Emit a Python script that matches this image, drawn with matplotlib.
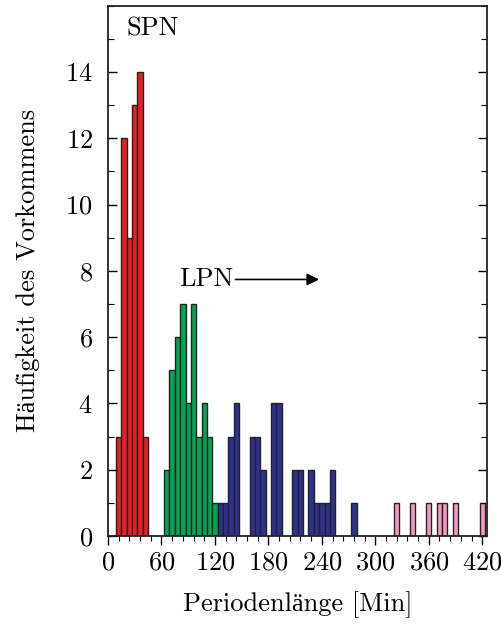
import matplotlib
matplotlib.use('Agg')
import matplotlib.pyplot as plt
from matplotlib.ticker import MultipleLocator

# bar centres (minutes) and counts, one group per colour
spn_x = [12, 18, 24, 30, 36, 42]
spn_n = [3, 12, 9, 13, 14, 3]
lpn_green_x = [66, 72, 78, 84, 90, 96, 102, 108, 114, 120]
lpn_green_n = [2, 5, 6, 7, 4, 7, 3, 4, 3, 1]
lpn_blue_x = [126, 132, 138, 144, 162, 168, 174, 186, 192, 210, 216, 228, 234, 240, 246, 252, 276]
lpn_blue_n = [1, 1, 3, 4, 3, 3, 2, 4, 4, 2, 2, 2, 1, 1, 1, 2, 1]
lpn_pink_x = [324, 342, 360, 372, 378, 390, 420]
lpn_pink_n = [1, 1, 1, 1, 1, 1, 1]
xticks = [0, 60, 120, 180, 240, 300, 360, 420]

plt.rcParams['font.family'] = ['cmr10', 'Liberation Serif']
plt.rcParams['axes.formatter.use_mathtext'] = True
plt.rcParams['font.size'] = 19

fig = plt.figure(figsize=(5.01, 6.24), dpi=100)
ax = fig.add_axes([0.2156, 0.141, 0.9714 - 0.2156, 0.9909 - 0.141])

w = 6
ec = '#222222'
ax.bar(spn_x, spn_n, width=w, color='#ec1c24', edgecolor=ec, linewidth=1)
ax.bar(lpn_green_x, lpn_green_n, width=w, color='#00a651', edgecolor=ec, linewidth=1)
ax.bar(lpn_blue_x, lpn_blue_n, width=w, color='#2e3192', edgecolor=ec, linewidth=1)
ax.bar(lpn_pink_x, lpn_pink_n, width=w, color='#f49ac1', edgecolor=ec, linewidth=1)

ax.set_xlim(0, 425)
ax.set_ylim(0, 16)
ax.set_xticks(xticks)
ax.xaxis.set_minor_locator(MultipleLocator(12))
ax.set_yticks(range(0, 15, 2))
ax.yaxis.set_minor_locator(MultipleLocator(1))

ax.tick_params(axis='x', which='major', direction='out', length=6.5, width=1, pad=4, labelsize=19)
ax.tick_params(axis='x', which='minor', direction='out', length=3.5, width=0.8)
ax.tick_params(axis='y', which='major', direction='in', length=6.5, width=1, right=True, pad=11, labelsize=19)
ax.tick_params(axis='y', which='minor', direction='in', length=4, width=0.8, right=True)
for s in ax.spines.values():
    s.set_linewidth(1.3)
    s.set_color('#222222')

ax.text(21, 15.3, 'SPN', fontsize=19, va='center', ha='left')
ax.annotate('', xy=(240, 7.74), xytext=(80 + 60, 7.74),
            arrowprops=dict(arrowstyle='-|>', color='black', lw=1.2, mutation_scale=18))
ax.text(80, 7.74, 'LPN', fontsize=19, va='center', ha='left')

ax.set_xlabel('Periodenlänge [Min]', fontsize=19, labelpad=12)
ax.set_ylabel('Häufigkeit des Vorkommens', fontsize=19, labelpad=18)

fig.savefig('out.png', dpi=100)
